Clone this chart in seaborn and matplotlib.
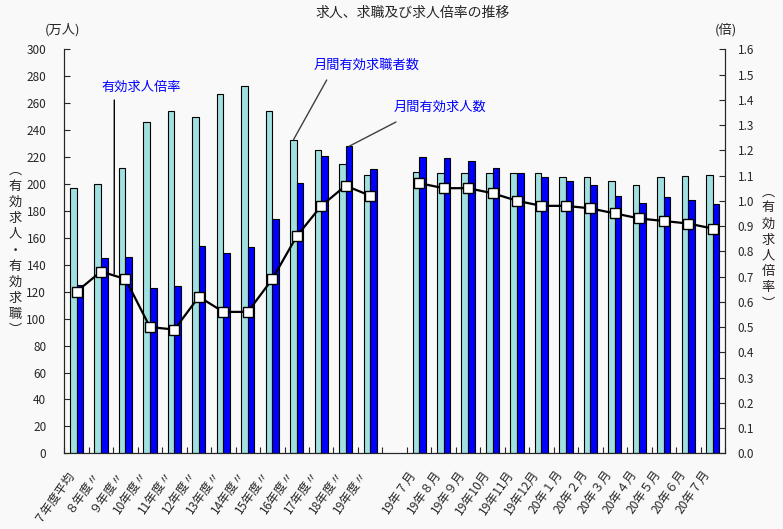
import numpy as np
import pandas as pd
import matplotlib
matplotlib.use("Agg")
import matplotlib.pyplot as plt
import seaborn as sns

# 区分（年度平均＋月次）
cats_year = ["７年度平均", "８年度〃", "９年度〃", "10年度〃", "11年度〃", "12年度〃",
             "13年度〃", "14年度〃", "15年度〃", "16年度〃", "17年度〃", "18年度〃", "19年度〃"]
cats_month = ["19年７月", "19年８月", "19年９月", "19年10月", "19年11月", "19年12月",
              "20年１月", "20年２月", "20年３月", "20年４月", "20年５月", "20年６月", "20年７月"]

# 月間有効求職者数（万人）
seekers_year = [197, 200, 212, 246, 254, 250, 267, 273, 254, 233, 225, 215, 207]
seekers_month = [209, 208, 208, 208, 208, 208, 205, 205, 202, 199, 205, 206, 207]

# 月間有効求人数（万人）
openings_year = [125, 145, 146, 123, 124, 154, 149, 153, 174, 201, 221, 228, 211]
openings_month = [220, 219, 217, 212, 208, 205, 202, 199, 191, 186, 190, 188, 185]

# 有効求人倍率（倍）
ratio_year = [0.64, 0.72, 0.69, 0.50, 0.49, 0.62, 0.56, 0.56, 0.69, 0.86, 0.98, 1.06, 1.02]
ratio_month = [1.07, 1.05, 1.05, 1.03, 1.00, 0.98, 0.98, 0.97, 0.95, 0.93, 0.92, 0.91, 0.89]

gap = "　"
order = cats_year + [gap] + cats_month
s_seek = "月間有効求職者数"
s_open = "月間有効求人数"

cats = cats_year + cats_month
df = pd.DataFrame({
    "区分": cats + cats,
    "系列": [s_seek] * len(cats) + [s_open] * len(cats),
    "値": seekers_year + seekers_month + openings_year + openings_month,
})

sns.set_style("ticks")
plt.rcParams["font.family"] = ["Noto Sans CJK JP", "DejaVu Sans"]

bg = "#f9f9f9"
W, H = 783, 529
fig = plt.figure(figsize=(W / 100, H / 100), dpi=100, facecolor=bg)
ax = fig.add_axes([64.3 / W, 1 - 453.3 / H, (725 - 64.3) / W, (453.3 - 49.3) / H])
ax.set_facecolor(bg)

sns.barplot(data=df, x="区分", y="値", hue="系列", order=order,
            hue_order=[s_seek, s_open], palette=["#a0e0e0", "#0000ff"],
            saturation=1, width=0.54, gap=0, errorbar=None,
            edgecolor="black", linewidth=0.8, legend=False, ax=ax)

ax.set_xlim(-0.5, len(order) - 0.5)
ax.set_ylim(0, 300)
ax.set_yticks(np.arange(0, 301, 20))
ax.set_xticks(range(len(order)))
ax.set_xticklabels(["" if c == gap else c for c in order], rotation=55,
                   ha="right", va="bottom", rotation_mode="anchor", fontsize=8.7)
ax.set_xticks(np.arange(-0.5, len(order), 1), minor=True)
ax.tick_params(axis="x", which="major", length=0, pad=16)
ax.tick_params(axis="x", which="minor", direction="in", length=4, width=0.8)
ax.tick_params(axis="y", direction="in", length=4, width=0.8, pad=13, labelsize=8.5)
ax.set_xlabel("")
ax.set_ylabel("")
ax.spines["top"].set_visible(False)

# 有効求人倍率（右軸）
ax2 = ax.twinx()
line_kw = dict(color="black", linewidth=1.6, marker="s", markersize=7,
               markerfacecolor="white", markeredgecolor="black", markeredgewidth=1)
sns.lineplot(x=list(range(len(cats_year))), y=ratio_year, ax=ax2, **line_kw)
sns.lineplot(x=list(range(len(cats_year) + 1, len(order))), y=ratio_month, ax=ax2, **line_kw)
ax2.set_ylim(0, 1.6)
ax2.set_yticks(np.arange(0, 1.61, 0.1))
ax2.set_yticklabels([f"{v:.1f}" for v in np.arange(0, 1.61, 0.1)])
ax2.tick_params(axis="y", direction="in", length=4, width=0.8, pad=9, labelsize=8.5)
ax2.set_xlim(-0.5, len(order) - 0.5)
ax2.spines["top"].set_visible(False)

# タイトル・単位
fig.text(413 / W, 1 - 13 / H, "求人、求職及び求人倍率の推移", ha="center", va="center", fontsize=10)
fig.text(62 / W, 1 - 30 / H, "(万人)", ha="center", va="center", fontsize=9.5)
fig.text(726 / W, 1 - 30 / H, "(倍)", ha="center", va="center", fontsize=9.5)
fig.text(15 / W, 1 - 250 / H, "\n".join("︵有効求人・有効求職︶"), ha="center", va="center",
         fontsize=9.5, linespacing=1.3)
fig.text(768 / W, 1 - 248 / H, "\n".join("︵有効求人倍率︶"), ha="center", va="center",
         fontsize=9.5, linespacing=1.3)

# 注記
blue = "#0000ff"
fig.text(141 / W, 1 - 87 / H, "有効求人倍率", color=blue, ha="center", va="center", fontsize=9.5)
fig.text(367 / W, 1 - 65 / H, s_seek, color=blue, ha="center", va="center", fontsize=9.5)
fig.text(440 / W, 1 - 107 / H, s_open, color=blue, ha="center", va="center", fontsize=9.5)
ax2.annotate("", xy=(1.54, 0.71), xycoords="data", xytext=(114.3, H - 100), textcoords="figure pixels",
             arrowprops=dict(arrowstyle="-", color="black", lw=1, shrinkA=0, shrinkB=0))
ax.annotate("", xy=(8.87, 233), xycoords="data", xytext=(326.7, H - 80), textcoords="figure pixels",
            arrowprops=dict(arrowstyle="-", color="#404040", lw=1, shrinkA=0, shrinkB=0))
ax.annotate("", xy=(11.14, 228), xycoords="data", xytext=(396, H - 122), textcoords="figure pixels",
            arrowprops=dict(arrowstyle="-", color="#404040", lw=1, shrinkA=0, shrinkB=0))

fig.savefig("out.png", dpi=100, facecolor=bg)
